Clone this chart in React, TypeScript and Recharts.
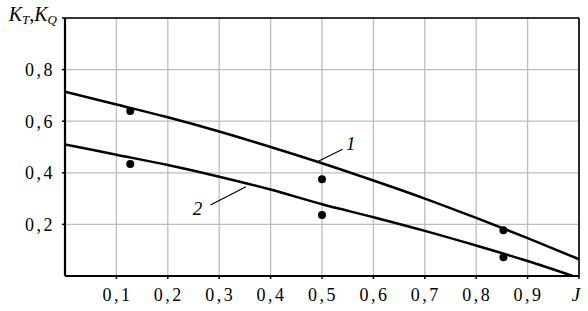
import {
  ComposedChart,
  Line,
  Scatter,
  XAxis,
  YAxis,
  CartesianGrid,
  ReferenceLine,
  ReferenceDot,
} from "recharts";

// curve 1 (K_T) and curve 2 (K_Q)
const J_KT = [0, 0.1, 0.2, 0.3, 0.4, 0.5, 0.6, 0.7, 0.8, 0.9, 1.0];
const KT = [0.714, 0.665, 0.615, 0.56, 0.5, 0.437, 0.37, 0.3, 0.225, 0.147, 0.065];
const J_KQ = [0, 0.1, 0.2, 0.3, 0.4, 0.5, 0.6, 0.7, 0.8, 0.9, 0.988];
const KQ = [0.51, 0.47, 0.43, 0.385, 0.335, 0.278, 0.228, 0.175, 0.118, 0.058, 0];

// measured points
const PT_J = [0.127, 0.5, 0.853];
const PT_KT = [0.64, 0.375, 0.177];
const PT_KQ = [0.434, 0.236, 0.073];

const X_TICKS = [0.1, 0.2, 0.3, 0.4, 0.5, 0.6, 0.7, 0.8, 0.9, 1.0];
const Y_TICKS = [0.2, 0.4, 0.6, 0.8, 1.0];

const ktData = J_KT.map((j, i) => ({ j, v: KT[i] }));
const kqData = J_KQ.map((j, i) => ({ j, v: KQ[i] }));
const ptData = PT_J.flatMap((j, i) => [
  { j, v: PT_KT[i] },
  { j, v: PT_KQ[i] },
]);

const FONT = "'Liberation Serif', 'DejaVu Serif', serif";
const fmt = (v: number) => v.toFixed(1).replace(".", ",");

const XTick = ({ x, y, payload }: any) => {
  const last = payload.value >= 0.999;
  return (
    <text
      x={last ? x - 3 : x + 1}
      y={y}
      dy="0.71em"
      textAnchor="middle"
      fontFamily={FONT}
      fontSize={last ? 19 : 18}
      fontStyle={last ? "italic" : "normal"}
      letterSpacing={last ? 0 : 2.5}
      fill="#000"
    >
      {last ? "J" : fmt(payload.value)}
    </text>
  );
};

const YTick = ({ x, y, payload }: any) => {
  if (payload.value >= 0.999) {
    return (
      <text x={x + 2} y={y} dy={3} textAnchor="end" fontFamily={FONT} fontSize={20} fontStyle="italic" fill="#000">
        K<tspan fontSize={13} dy={3}>T</tspan>
        <tspan dy={-3}>,K</tspan>
        <tspan fontSize={13} dy={3}>Q</tspan>
      </text>
    );
  }
  return (
    <text x={x} y={y} dy="0.35em" textAnchor="end" fontFamily={FONT} fontSize={18} letterSpacing={2.5} fill="#000">
      {fmt(payload.value)}
    </text>
  );
};

const Dot = ({ cx, cy }: any) => <circle cx={cx} cy={cy} r={4} fill="#000" />;

export default function App() {
  return (
    <div style={{ position: "absolute", left: 0, top: 0, background: "#fff" }}>
      <ComposedChart width={588} height={311} margin={{ top: 18, right: 9, bottom: 5, left: 10 }}>
        <CartesianGrid stroke="#bdbdbd" strokeWidth={1.3} />
        <XAxis
          type="number"
          dataKey="j"
          domain={[0, 1]}
          ticks={X_TICKS}
          tick={<XTick />}
          height={30}
          tickSize={3}
          tickMargin={9}
          axisLine={{ stroke: "#000", strokeWidth: 2.2 }}
          tickLine={{ stroke: "#000", strokeWidth: 1.5 }}
          allowDataOverflow
        />
        <YAxis
          type="number"
          dataKey="v"
          domain={[0, 1]}
          ticks={Y_TICKS}
          tick={<YTick />}
          width={55}
          tickSize={3}
          tickMargin={7}
          axisLine={{ stroke: "#000", strokeWidth: 2.2 }}
          tickLine={{ stroke: "#000", strokeWidth: 1.5 }}
          allowDataOverflow
        />
        <ReferenceLine y={1} stroke="#000" strokeWidth={1.6} />
        <ReferenceLine x={1} stroke="#000" strokeWidth={1.6} />
        <Line
          data={ktData}
          dataKey="v"
          type="monotone"
          stroke="#000"
          strokeWidth={2.5}
          dot={false}
          isAnimationActive={false}
        />
        <Line
          data={kqData}
          dataKey="v"
          type="monotone"
          stroke="#000"
          strokeWidth={2.5}
          dot={false}
          isAnimationActive={false}
        />
        <Scatter data={ptData} dataKey="v" shape={<Dot />} isAnimationActive={false} />
        <ReferenceLine
          segment={[
            { x: 0.491, y: 0.443 },
            { x: 0.54, y: 0.491 },
          ]}
          stroke="#000"
          strokeWidth={1.2}
        />
        <ReferenceLine
          segment={[
            { x: 0.283, y: 0.275 },
            { x: 0.352, y: 0.346 },
          ]}
          stroke="#000"
          strokeWidth={1.2}
        />
        <ReferenceDot
          x={0.556}
          y={0.515}
          r={0}
          label={{ value: "1", position: "center", fontFamily: FONT, fontSize: 19, fontStyle: "italic", fill: "#000" }}
        />
        <ReferenceDot
          x={0.258}
          y={0.262}
          r={0}
          label={{ value: "2", position: "center", fontFamily: FONT, fontSize: 19, fontStyle: "italic", fill: "#000" }}
        />
      </ComposedChart>
    </div>
  );
}
